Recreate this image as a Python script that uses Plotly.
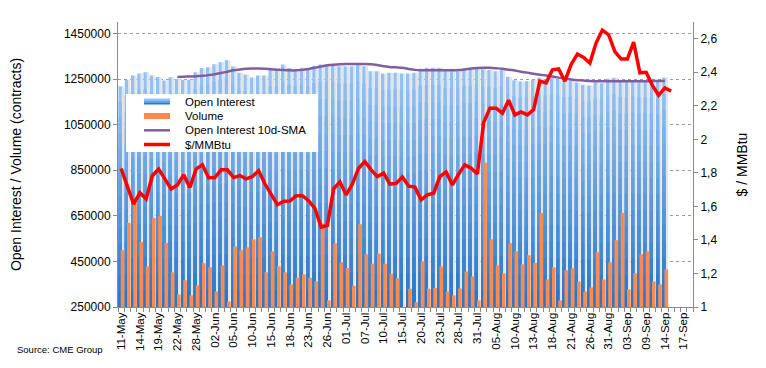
import plotly.graph_objects as go

# ---------------- data ----------------
dates = [
    "11-May", "12-May", "13-May", "14-May", "15-May", "18-May", "19-May", "20-May", "21-May", "22-May",
    "26-May", "27-May", "28-May", "29-May",
    "01-Jun", "02-Jun", "03-Jun", "04-Jun", "05-Jun", "08-Jun", "09-Jun", "10-Jun", "11-Jun", "12-Jun",
    "15-Jun", "16-Jun", "17-Jun", "18-Jun", "19-Jun", "22-Jun", "23-Jun", "24-Jun", "25-Jun", "26-Jun",
    "29-Jun", "30-Jun",
    "01-Jul", "02-Jul", "06-Jul", "07-Jul", "08-Jul", "09-Jul", "10-Jul", "13-Jul", "14-Jul", "15-Jul",
    "16-Jul", "17-Jul", "20-Jul", "21-Jul", "22-Jul", "23-Jul", "24-Jul", "27-Jul", "28-Jul", "29-Jul",
    "30-Jul", "31-Jul",
    "03-Aug", "04-Aug", "05-Aug", "06-Aug", "07-Aug", "10-Aug", "11-Aug", "12-Aug", "13-Aug", "14-Aug",
    "17-Aug", "18-Aug", "19-Aug", "20-Aug", "21-Aug", "24-Aug", "25-Aug", "26-Aug", "27-Aug", "28-Aug",
    "31-Aug",
    "01-Sep", "02-Sep", "03-Sep", "04-Sep", "08-Sep", "09-Sep", "10-Sep", "11-Sep", "14-Sep", "15-Sep",
    "16-Sep", "17-Sep", "18-Sep",
]

open_interest = [
    1218000, 1247000, 1265000, 1274000, 1280000, 1265000, 1259000, 1243000, 1258000, 1250000,
    1247000, 1247000, 1280000, 1298000, 1302000, 1315000, 1324000, 1332000, 1305000, 1277000,
    1270000, 1257000, 1265000, 1265000, 1292000, 1289000, 1314000, 1298000, 1293000, 1299000,
    1292000, 1308000, 1314000, 1314000, 1312000, 1306000, 1306000, 1306000, 1318000, 1306000,
    1284000, 1284000, 1274000, 1277000, 1277000, 1274000, 1274000, 1277000, 1295000, 1299000,
    1299000, 1299000, 1284000, 1284000, 1284000, 1296000, 1294000, 1303000, 1293000, 1290000,
    1284000, 1290000, 1260000, 1245000, 1239000, 1240000, 1247000, 1255000, 1249000, 1257000,
    1249000, 1242000, 1243000, 1235000, 1225000, 1221000, 1236000, 1231000, 1251000, 1255000,
    1243000, 1241000, 1246000, 1241000, 1240000, 1240000, 1237000, 1257000,
]

volume = [
    499000, 619000, 704000, 535000, 428000, 641000, 649000, 531000, 402000, 305000,
    367000, 301000, 345000, 442000, 424000, 318000, 433000, 274000, 516000, 499000,
    512000, 547000, 556000, 402000, 494000, 428000, 402000, 349000, 378000, 393000,
    378000, 362000, 616000, 279000, 530000, 446000, 421000, 343000, 613000, 481000,
    440000, 484000, 440000, 396000, 376000, 250000, 330000, 271000, 450000, 330000,
    334000, 428000, 318000, 301000, 331000, 406000, 384000, 279000, 883000, 547000,
    433000, 398000, 530000, 494000, 437000, 477000, 443000, 662000, 371000, 424000,
    279000, 411000, 420000, 362000, 318000, 336000, 490000, 371000, 446000, 543000,
    662000, 327000, 398000, 481000, 494000, 362000, 349000, 415000,
]

oi_sma_10d = [
    None, None, None, None, None, None, None, None, None, 1259000,
    1260000, 1261000, 1262000, 1264000, 1267000, 1271000, 1276000, 1282000, 1288000, 1292000,
    1295000, 1296000, 1296000, 1295000, 1293000, 1291000, 1289000, 1288000, 1288000, 1290000,
    1294000, 1299000, 1305000, 1310000, 1313000, 1315000, 1316000, 1316000, 1316000, 1316000,
    1315000, 1311000, 1306000, 1303000, 1301000, 1299000, 1294000, 1290000, 1288000, 1288000,
    1288000, 1288000, 1288000, 1288000, 1289000, 1292000, 1296000, 1298000, 1299000, 1299000,
    1297000, 1295000, 1291000, 1287000, 1282000, 1278000, 1273000, 1269000, 1265000, 1261000,
    1256000, 1252000, 1248000, 1245000, 1243000, 1241000, 1240000, 1240000, 1240000, 1240000,
    1240000, 1240000, 1240000, 1240000, 1240000, 1241000, 1241000, 1241000,
]

price = [
    1.826, 1.713, 1.614, 1.681, 1.645, 1.783, 1.823, 1.764, 1.704, 1.728,
    1.788, 1.713, 1.823, 1.848, 1.771, 1.772, 1.818, 1.818, 1.772, 1.784,
    1.764, 1.778, 1.813, 1.735, 1.669, 1.610, 1.631, 1.632, 1.664, 1.664,
    1.634, 1.589, 1.477, 1.487, 1.705, 1.746, 1.669, 1.733, 1.828, 1.868,
    1.818, 1.778, 1.798, 1.733, 1.737, 1.775, 1.721, 1.715, 1.639, 1.669,
    1.679, 1.778, 1.806, 1.728, 1.793, 1.848, 1.828, 1.794, 2.100, 2.186,
    2.186, 2.156, 2.233, 2.146, 2.164, 2.146, 2.178, 2.347, 2.337, 2.415,
    2.420, 2.347, 2.447, 2.509, 2.488, 2.455, 2.576, 2.652, 2.624, 2.524,
    2.479, 2.479, 2.580, 2.397, 2.400, 2.322, 2.263, 2.307, 2.288,
]

series_names = ["Open Interest", "Volume", "Open Interest 10d-SMA", "$/MMBtu"]
label_step = 3
y_left_ticks = [250000, 450000, 650000, 850000, 1050000, 1250000, 1450000]
y_left_text = ["250000", "450000", "650000", "850000", "1050000", "1250000", "1450000"]
y_right_ticks = [1.0, 1.2, 1.4, 1.6, 1.8, 2.0, 2.2, 2.4, 2.6]
y_right_text = ["1", "1,2", "1,4", "1,6", "1,8", "2", "2,2", "2,4", "2,6"]

# ---------------- figure ----------------
W, H = 766, 368
M_L, M_R, M_T, M_B = 118, 73, 22, 61
PW, PH = W - M_L - M_R, H - M_T - M_B

x_idx = list(range(len(dates)))
x_oi = x_idx[:len(open_interest)]
x_px = x_idx[:len(price)]
base = y_left_ticks[0]

col_oi_top = (146, 194, 245)
col_oi_bot = (38, 120, 204)
col_vol = "#ff8a4c"
col_sma = "#7f5fa0"
col_px = "#ff0000"

fig = go.Figure()

# light grey stripe ("shadow") next to each open-interest bar
fig.add_trace(go.Bar(
    x=x_oi, y=open_interest, offset=0.08, width=0.42,
    marker=dict(color="#e4e4e4", line=dict(width=0)),
    showlegend=False, hoverinfo="skip",
))

# blue open-interest bars with a vertical gradient made of stacked layers
n_layers = 14
for k in range(n_layers):
    frac = 1 - k / n_layers
    t = k / (n_layers - 1)
    col = "rgb(%d,%d,%d)" % tuple(round(col_oi_top[j] + (col_oi_bot[j] - col_oi_top[j]) * t) for j in range(3))
    fig.add_trace(go.Bar(
        x=x_oi, y=[base + (v - base) * frac for v in open_interest],
        offset=-0.42, width=0.52,
        marker=dict(color=col, line=dict(width=0)),
        name=series_names[0], showlegend=False, hoverinfo="skip",
    ))

fig.add_trace(go.Bar(
    x=x_oi, y=volume, name=series_names[1], offset=-0.06, width=0.58,
    marker=dict(color=col_vol, line=dict(width=0)), showlegend=False,
))

fig.add_trace(go.Scatter(
    x=x_oi, y=oi_sma_10d, name=series_names[2], mode="lines",
    line=dict(color=col_sma, width=2.5, shape="spline", smoothing=0.6),
    connectgaps=False, showlegend=False,
))

fig.add_trace(go.Scatter(
    x=x_px, y=price, name=series_names[3], mode="lines", yaxis="y2",
    line=dict(color=col_px, width=3.5), showlegend=False,
))

# ---------------- compact legend box (pixel layout -> paper coords) ----------------
def px_x(x):
    return (x - M_L) / PW

def px_y(y):
    return (H - M_B - y) / PH

font_family = "Liberation Sans, Arial, sans-serif"
axis_col = "#8a8a8a"

shapes = [dict(type="rect", xref="paper", yref="paper",
               x0=px_x(126), x1=px_x(318), y0=px_y(152), y1=px_y(94),
               fillcolor="white", line=dict(width=0), layer="above")]
annotations = []
row_y = [101.5, 116, 130.3, 144.5]
icon_x0, icon_x1, text_x = 144, 170, 183
# blue gradient icon
for k in range(3):
    t = k / 2
    col = "rgb(%d,%d,%d)" % tuple(round(col_oi_top[j] + (col_oi_bot[j] - col_oi_top[j]) * t) for j in range(3))
    shapes.append(dict(type="rect", xref="paper", yref="paper",
                       x0=px_x(icon_x0), x1=px_x(icon_x1),
                       y0=px_y(row_y[0] - 3 + 2 * k + 2), y1=px_y(row_y[0] - 3 + 2 * k),
                       fillcolor=col, line=dict(width=0), layer="above"))
shapes.append(dict(type="rect", xref="paper", yref="paper",
                   x0=px_x(icon_x0), x1=px_x(icon_x1), y0=px_y(row_y[1] + 3), y1=px_y(row_y[1] - 3),
                   fillcolor=col_vol, line=dict(width=0), layer="above"))
shapes.append(dict(type="line", xref="paper", yref="paper",
                   x0=px_x(icon_x0), x1=px_x(icon_x1), y0=px_y(row_y[2]), y1=px_y(row_y[2]),
                   line=dict(color=col_sma, width=2.5), layer="above"))
shapes.append(dict(type="line", xref="paper", yref="paper",
                   x0=px_x(icon_x0), x1=px_x(icon_x1), y0=px_y(row_y[3]), y1=px_y(row_y[3]),
                   line=dict(color=col_px, width=3.5), layer="above"))
for name, ry in zip(series_names, row_y):
    annotations.append(dict(text=name, xref="paper", yref="paper",
                            x=px_x(text_x), y=px_y(ry), xanchor="left", yanchor="middle",
                            showarrow=False, font=dict(size=11.5, family=font_family, color="black")))

annotations.append(dict(
    text="Source: CME Group", xref="paper", yref="paper",
    x=px_x(15), y=px_y(349), xanchor="left", yanchor="middle",
    showarrow=False, font=dict(size=9.5, family=font_family, color="black"),
))

fig.update_layout(
    width=W, height=H,
    margin=dict(l=M_L, r=M_R, t=M_T, b=M_B),
    paper_bgcolor="white", plot_bgcolor="white",
    barmode="overlay",
    font=dict(family=font_family, size=12, color="black"),
    showlegend=False,
    xaxis=dict(
        range=[-0.5, len(dates) - 0.5],
        tickmode="array",
        tickvals=x_idx[::label_step],
        ticktext=dates[::label_step],
        tickangle=-90,
        ticks="",
        tickfont=dict(size=11.5),
        showline=True, linecolor=axis_col, linewidth=1,
        showgrid=False, zeroline=False,
        minor=dict(
            tickmode="array",
            tickvals=[i - 0.5 for i in range(len(dates) + 1)],
            ticks="outside", ticklen=4, tickcolor=axis_col, showgrid=False,
        ),
    ),
    yaxis=dict(
        range=[250000, 1500000],
        tickmode="array", tickvals=y_left_ticks, ticktext=y_left_text,
        ticks="outside", ticklen=4, tickcolor=axis_col,
        showline=True, linecolor=axis_col, linewidth=1,
        showgrid=True, gridcolor="#9a9a9a", griddash="dot", gridwidth=1,
        zeroline=False,
        tickfont=dict(size=12),
        title=dict(text="Open Interest / Volume (contracts)", font=dict(size=14), standoff=38),
    ),
    yaxis2=dict(
        overlaying="y", side="right",
        range=[1.0, 2.7],
        tickmode="array", tickvals=y_right_ticks, ticktext=y_right_text,
        ticks="outside", ticklen=4, tickcolor=axis_col,
        showline=True, linecolor=axis_col, linewidth=1,
        showgrid=False, zeroline=False,
        tickfont=dict(size=12),
        title=dict(text="$ / MMBtu", font=dict(size=14), standoff=20),
    ),
    shapes=shapes,
    annotations=annotations,
)

# remove the browser's default 8px page margin so the figure sits at (0, 0)
fig.write_html("out.html", config={"displayModeBar": False},
               post_script="document.body.style.margin='0';")
